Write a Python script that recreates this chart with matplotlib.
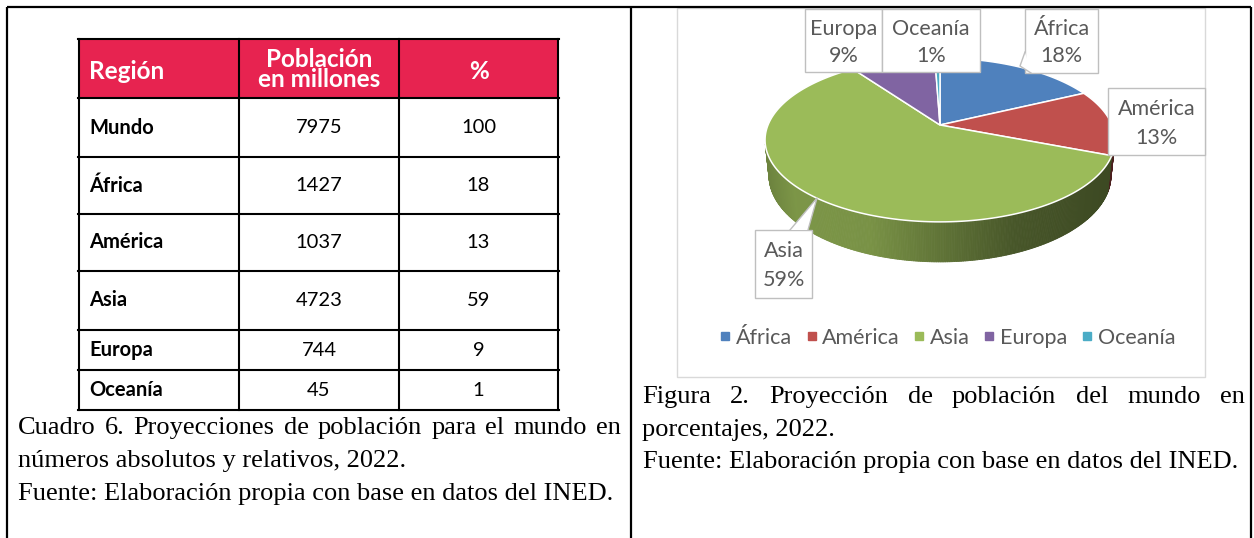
#Cuadro 6 y Figura 2: poblacion mundial 2022, tabla + pastel 3D
import matplotlib.pyplot as plt
import numpy as np
from matplotlib.patches import Rectangle, Polygon
from matplotlib.collections import PolyCollection
from matplotlib.lines import Line2D
from matplotlib.colors import to_rgb

regiones = ["Mundo", "África", "América", "Asia", "Europa", "Oceanía"]
poblacion = [7975, 1427, 1037, 4723, 744, 45]
porcentaje = [100, 18, 13, 59, 9, 1]

pie_labels = regiones[1:]
pie_vals = poblacion[1:]
pie_pct = porcentaje[1:]
pie_colors = ["#4F81BD", "#C0504D", "#9BBB59", "#8064A2", "#4BACC6"]

W, H = 1254, 538
fig = plt.figure(figsize=(W / 100, H / 100), dpi=100)
ax = fig.add_axes([0, 0, 1, 1])
ax.set_xlim(0, W)
ax.set_ylim(H, 0)
ax.axis('off')

SANS = 'Lato'
SERIF = 'Liberation Serif'
GRAY = '#595959'

# marco del documento
for xs, ys in [([7, 1251], [7, 7]), ([7, 7], [7, H]), ([631, 631], [7, H]), ([1251, 1251], [7, H])]:
    ax.plot(xs, ys, color='black', lw=1.6, solid_capstyle='butt')

# ---- tabla ----
col_edges = [79, 239, 399, 558]
row_edges = [39, 98, 157, 214, 271, 330, 370, 410]
ax.add_patch(Rectangle((col_edges[0], row_edges[0]), col_edges[-1] - col_edges[0],
                       row_edges[1] - row_edges[0], facecolor='#E72350', edgecolor='none'))
for x in col_edges:
    ax.plot([x, x], [row_edges[0], row_edges[-1]], color='black', lw=1.5)
for y in row_edges:
    ax.plot([col_edges[0] - 0.7, col_edges[-1] + 0.7], [y, y], color='black', lw=1.5)

hy = (row_edges[0] + row_edges[1]) / 2
hdr = dict(color='white', fontsize=17.5, fontweight='bold', family=SANS, va='center')
ax.text(89, hy + 3, "Región", **hdr)
ax.text((col_edges[1] + col_edges[2]) / 2, hy + 1, "Población\nen millones", ha='center',
        linespacing=0.88, **hdr)
ax.text((col_edges[2] + col_edges[3]) / 2, hy + 3, "%", ha='center', **hdr)

for i, reg in enumerate(regiones):
    y = (row_edges[i + 1] + row_edges[i + 2]) / 2
    ax.text(89, y, reg, fontsize=14.5, fontweight='bold', family=SANS, va='center')
    ax.text((col_edges[1] + col_edges[2]) / 2, y, str(poblacion[i]), fontsize=14.5, family=SANS,
            va='center', ha='center')
    ax.text((col_edges[2] + col_edges[3]) / 2, y, str(porcentaje[i]), fontsize=14.5, family=SANS,
            va='center', ha='center')

# ---- captions ----
renderer = fig.canvas.get_renderer()


def justify(words, x0, x1, y, **kw):
    ts = [ax.text(0, y, w, va='center', **kw) for w in words]
    ws = [t.get_window_extent(renderer).width for t in ts]
    gap = (x1 - x0 - sum(ws)) / (len(words) - 1)
    x = x0
    for t, w in zip(ts, ws):
        t.set_x(x)
        x += w + gap


cap = dict(fontsize=19, family=SERIF, color='black')
justify("Cuadro 6. Proyecciones de población para el mundo en".split(), 18, 621, 428, **cap)
ax.text(18, 461, "números absolutos y relativos, 2022.", va='center', **cap)
ax.text(18, 494, "Fuente: Elaboración propia con base en datos del INED.", va='center', **cap)

justify("Figura 2. Proyección de población del mundo en".split(), 642, 1245, 397, **cap)
ax.text(642, 430, "porcentajes, 2022.", va='center', **cap)
ax.text(643, 462, "Fuente: Elaboración propia con base en datos del INED.", va='center', **cap)

# ---- grafico de pastel 3D ----
ax.add_patch(Rectangle((677, 8), 1205 - 677, 377 - 8, facecolor='white', edgecolor='#D9D9D9', lw=1))

# proyeccion en perspectiva de un disco inclinado
cx, cy, R = 940, 125, 172
elev, persp, hgt = np.radians(27.4), 0.206, 0.234
se, ce = np.sin(elev), np.cos(elev)


def proj(phi, z=0.0):
    p = np.radians(phi)
    x, y = np.cos(p), np.sin(p)
    v = y * se + z * ce
    d = y * ce - z * se
    s = 1.0 / (1.0 + persp * d)
    return cx + R * x * s, cy - R * v * s


fr = np.array(pie_vals) / sum(pie_vals)
cum = np.concatenate([[0], np.cumsum(fr)])
a_start = 90 - 360 * cum[:-1]
a_end = 90 - 360 * cum[1:]

x_left, x_right = 765, 1113
shade_x = [0.0, 0.08, 0.3, 0.45, 0.72, 1.0]
shade_f = [0.70, 0.80, 0.78, 0.66, 0.46, 0.39]


def area(q):
    q = np.array(q)
    return 0.5 * np.sum(q[:, 0] * np.roll(q[:, 1], -1) - np.roll(q[:, 0], -1) * q[:, 1])


# los angulos recorren el pastel en sentido horario (decrecientes)
front_sign = np.sign(area([proj(-89, 0), proj(-91, 0), proj(-91, -hgt), proj(-89, -hgt)]))

# paredes
quads, cols = [], []
for i in range(len(pie_vals)):
    th = np.linspace(a_start[i], a_end[i], max(3, int((a_start[i] - a_end[i]) * 2)))
    base = np.array(to_rgb(pie_colors[i]))
    for p1, p2 in zip(th[:-1], th[1:]):
        q = [proj(p1), proj(p2), proj(p2, -hgt), proj(p1, -hgt)]
        if np.sign(area(q)) != front_sign:
            continue
        xm = (q[0][0] + q[1][0]) / 2
        f = np.interp((xm - x_left) / (x_right - x_left), shade_x, shade_f)
        quads.append(q)
        cols.append(base * f)
ax.add_collection(PolyCollection(quads, facecolors=cols, edgecolors=cols, linewidths=0.6, zorder=1))

# cara superior
for i in range(len(pie_vals)):
    th = np.linspace(a_start[i], a_end[i], 150)
    verts = [(cx, cy)] + [proj(t) for t in th]
    ax.add_patch(Polygon(verts, closed=True, facecolor=pie_colors[i], edgecolor='white',
                         lw=1.1, zorder=2))

# etiquetas tipo callout
box_pos = {"Europa": (805, 9, 882, 72), "Oceanía": (882, 9, 980, 72),
           "África": (1025, 9, 1098, 73), "América": (1108, 88, 1205, 155),
           "Asia": (755, 230, 812, 298)}
pointers = {"África": [(1025, 52), (1020, 66), (1031, 73)],
            "Asia": [(790, 230), (817, 198), (808, 230)]}
for lab, pc in zip(pie_labels, pie_pct):
    x0, y0, x1, y1 = box_pos[lab]
    ax.add_patch(Rectangle((x0, y0), x1 - x0, y1 - y0, facecolor='white',
                           edgecolor='#BFBFBF', lw=1, zorder=4))
    if lab in pointers:
        p = pointers[lab]
        ax.add_patch(Polygon(p, closed=True, facecolor='white', edgecolor='none', zorder=5))
        ax.plot([p[0][0], p[1][0], p[2][0]], [p[0][1], p[1][1], p[2][1]],
                color='#BFBFBF', lw=1, zorder=5)
    xm = (x0 + x1) / 2
    ax.text(xm, y0 + 0.31 * (y1 - y0), lab, ha='center', va='center', fontsize=15.5,
            family=SANS, color=GRAY, zorder=6)
    ax.text(xm, y0 + 0.74 * (y1 - y0), f"{pc}%", ha='center', va='center', fontsize=15.5,
            family=SANS, color=GRAY, zorder=6)

handles = [Line2D([], [], marker='s', ls='', color=c, markersize=6) for c in pie_colors]
leg = ax.legend(handles, pie_labels, loc='center', bbox_to_anchor=(947 / W, 1 - 338 / H),
                bbox_transform=fig.transFigure, ncol=5, frameon=False,
                handlelength=0.6, handletextpad=0.2, columnspacing=0.6,
                prop={'family': SANS, 'size': 15.5})
for t in leg.get_texts():
    t.set_color(GRAY)

ax.set_xlim(0, W)
ax.set_ylim(H, 0)
fig.savefig('out.png', dpi=100)
